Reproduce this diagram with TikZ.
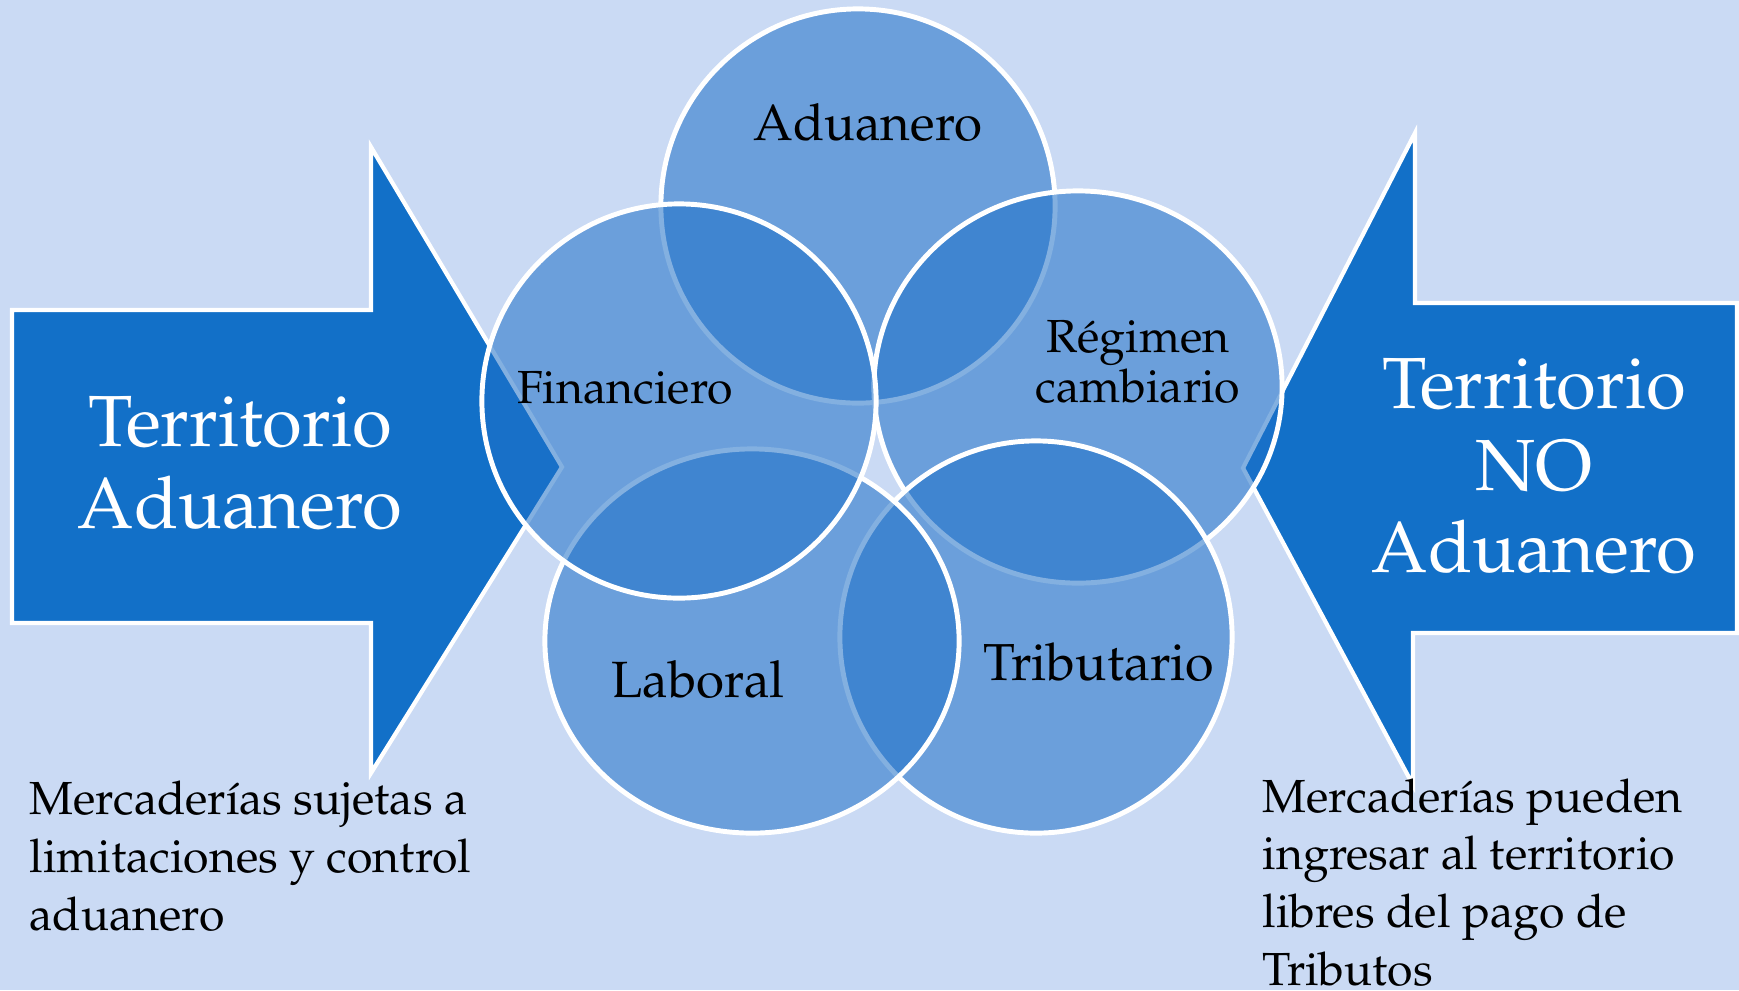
\documentclass[tikz,border=0pt]{standalone}
\usepackage[T1]{fontenc}
\usepackage{mathpazo}
\usepackage{tikz}
\usetikzlibrary{shapes.geometric}
\definecolor{backdrop}{RGB}{202,218,244}
\definecolor{arrowblue}{RGB}{18,112,200}
\definecolor{vennblue}{RGB}{30,112,200}
\tikzstyle{blockarrow}=[draw=white, line width=1.2pt, fill=arrowblue, line join=miter]
\tikzstyle{vennset}=[ellipse, draw=white, line width=1.4pt, fill=vennblue, fill opacity=0.55, inner sep=0pt, outer sep=0pt]
\tikzstyle{vennlabel}=[anchor=base, inner sep=0pt, font=\fontsize{14.5}{16}\selectfont]
\tikzstyle{vennsmall}=[vennlabel, align=center, font=\fontsize{13.2}{14.2}\selectfont]
\tikzstyle{arrowlabel}=[anchor=base, align=center, inner sep=0pt, text=white, font=\fontsize{20.6}{23.2}\selectfont]
\tikzstyle{notelabel}=[anchor=base west, align=left, inner sep=0pt, font=\fontsize{13.2}{16.4}\selectfont]
\newcommand{\vennset}[4]{
	\node[vennset, minimum width=#3, minimum height=#4] (#1) at (#2) {};}

\begin{document}
\begin{tikzpicture}[x=0.01cm, y=-0.01cm]
\useasboundingbox (0,0) rectangle (1739,990);
\fill[backdrop] (0,0) rectangle (1739,990);
% block arrows
\draw[blockarrow] (12,310) -- (371,310) -- (371,147) -- (562,467) -- (371,773) -- (371,623) -- (12,623) -- cycle;
\draw[blockarrow] (1737,303) -- (1415,303) -- (1415,133) -- (1243,468) -- (1413,785) -- (1413,633) -- (1737,633) -- cycle;
\node[arrowlabel] (inside) at (240,528) {Territorio\\Aduanero};
\node[arrowlabel] (outside) at (1534,572) {Territorio\\NO\\Aduanero};
% radial venn
\vennset{aduanero}{858,206}{3.94cm}{3.94cm}
\vennset{regimen}{1078,387}{4.08cm}{3.92cm}
\vennset{tributario}{1036,637}{3.92cm}{3.92cm}
\vennset{laboral}{752,641}{4.14cm}{3.84cm}
\vennset{financiero}{679,401}{3.94cm}{3.94cm}
\node[vennlabel] (adulabel) at (868,140) {Aduanero};
\node[vennsmall] (reglabel) at (1138,402) {R\'egimen\\cambiario};
\node[vennlabel, font=\fontsize{14.8}{16}\selectfont] (trilabel) at (1099,680) {Tributario};
\node[vennlabel] (lablabel) at (698,697) {Laboral};
\node[vennsmall] (finlabel) at (625,403) {Financiero};
% notes
\node[notelabel] (leftnote) at (29,930) {Mercader\'{\i}as sujetas a\\limitaciones y control\\aduanero};
\node[notelabel] (rightnote) at (1262,985) {Mercader\'{\i}as pueden\\ingresar al territorio\\libres del pago de\\Tributos};
\end{tikzpicture}
\end{document}
